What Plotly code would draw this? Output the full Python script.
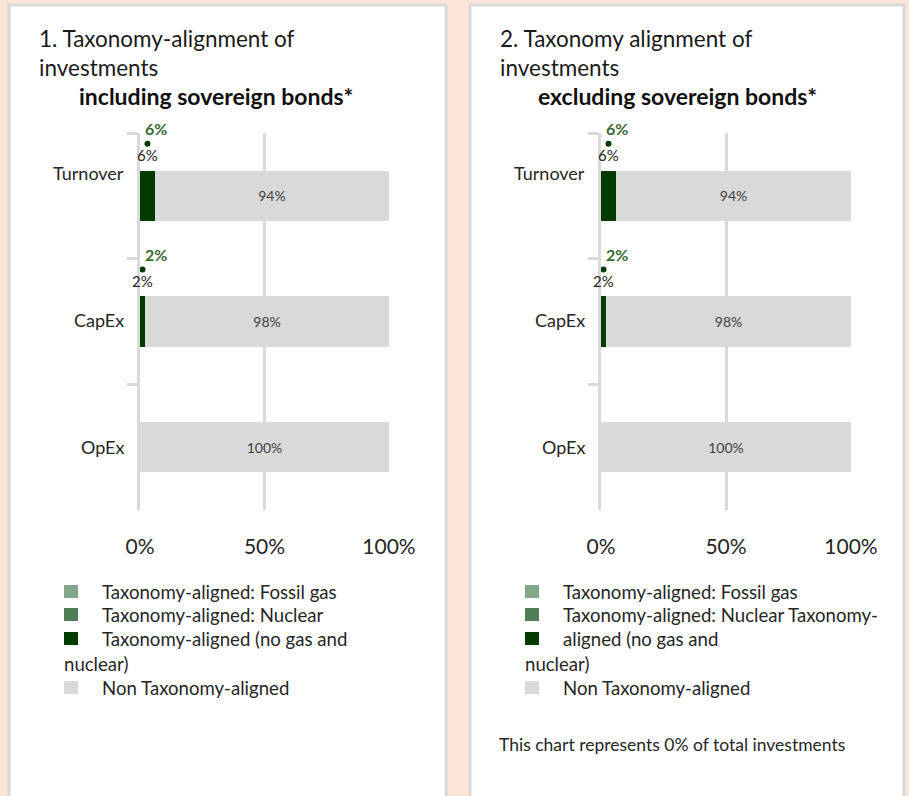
import plotly.graph_objects as go

W, H = 909, 796

# ---------------- data ----------------
categories = ["Turnover", "CapEx", "OpEx"]
series_names = [
    "Taxonomy-aligned: Fossil gas",
    "Taxonomy-aligned: Nuclear",
    "Taxonomy-aligned (no gas and nuclear)",
    "Non Taxonomy-aligned",
]
series_colors = ["#84a688", "#4f7d55", "#003b00", "#d9d9d9"]

incl_fossil_gas = [0.0, 0.0, 0.0]
incl_nuclear = [0.0, 0.0, 0.0]
incl_aligned = [0.06, 0.02, 0.0]
incl_non_aligned = [0.94, 0.98, 1.0]

excl_fossil_gas = [0.0, 0.0, 0.0]
excl_nuclear = [0.0, 0.0, 0.0]
excl_aligned = [0.06, 0.02, 0.0]
excl_non_aligned = [0.94, 0.98, 1.0]

x_tick_values = [0, 0.5, 1.0]
x_tick_labels = ["0%", "50%", "100%"]

panel1_title_lines = ["1. Taxonomy-alignment of", "investments"]
panel1_subtitle = "including sovereign bonds*"
panel2_title_lines = ["2. Taxonomy alignment of", "investments"]
panel2_subtitle = "excluding sovereign bonds*"

# (series index of the square or None, text)
panel1_legend_lines = [
    (0, "Taxonomy-aligned: Fossil gas"),
    (1, "Taxonomy-aligned: Nuclear"),
    (2, "Taxonomy-aligned (no gas and"),
    (None, "nuclear)"),
    (3, "Non Taxonomy-aligned"),
]
panel2_legend_lines = [
    (0, "Taxonomy-aligned: Fossil gas"),
    (1, "Taxonomy-aligned: Nuclear Taxonomy-"),
    (2, "aligned (no gas and"),
    (None, "nuclear)"),
    (3, "Non Taxonomy-aligned"),
]
panel2_footnote = "This chart represents 0% of total investments"

# ---------------- helpers ----------------
FONT = "Lato"
TEXT = "#262626"
GRID = "#d9d9d9"


def px(x):
    return x / W


def py(y):
    return 1 - y / H


fig = go.Figure()
annotations = []
shapes = []

# panel backgrounds
for x0, x1 in [(9, 446), (470, 904)]:
    shapes.append(dict(type="rect", xref="paper", yref="paper",
                       x0=px(x0), x1=px(x1), y0=py(820), y1=py(5),
                       fillcolor="white", line=dict(color="#d9d9d9", width=3),
                       layer="below"))

panels = [
    dict(dx=0, series=[incl_fossil_gas, incl_nuclear, incl_aligned, incl_non_aligned],
         title=panel1_title_lines, subtitle=panel1_subtitle,
         legend=panel1_legend_lines, footnote=None, xa="x", ya="y"),
    dict(dx=461, series=[excl_fossil_gas, excl_nuclear, excl_aligned, excl_non_aligned],
         title=panel2_title_lines, subtitle=panel2_subtitle,
         legend=panel2_legend_lines, footnote=panel2_footnote, xa="x2", ya="y2"),
]

for p in panels:
    dx = p["dx"]
    xa, ya = p["xa"], p["ya"]
    for i, (name, vals) in enumerate(zip(series_names, p["series"])):
        is_non = i == 3
        fig.add_trace(go.Bar(
            y=categories, x=vals, orientation="h", name=name,
            marker=dict(color=series_colors[i], line=dict(width=0)),
            width=0.4, xaxis=xa, yaxis=ya, showlegend=False,
            text=[f"{v:.0%}" for v in vals] if is_non else None,
            textposition="inside" if is_non else "none",
            insidetextanchor="middle",
            textfont=dict(family=FONT, size=14, color="#404040"),
            hoverinfo="skip",
        ))

    aligned = p["series"][2]
    for ci, (cat, v) in enumerate(zip(categories, aligned)):
        if v <= 0:
            continue
        # small marker dot above the aligned bar
        shapes.append(dict(type="circle", xref=xa, yref=ya,
                           xsizemode="pixel", ysizemode="pixel",
                           xanchor=v / 2, yanchor=ci,
                           x0=-3, x1=3, y0=49, y1=55,
                           fillcolor=series_colors[2], line=dict(width=0)))
        annotations.append(dict(x=v / 2, y=cat, xref=xa, yref=ya, text=f"{v:.0%}",
                                showarrow=False, yshift=41,
                                font=dict(family=FONT, size=15, color=TEXT)))
        annotations.append(dict(x=0, y=cat, xref=xa, yref=ya, text=f"<b>{v:.0%}</b>",
                                showarrow=False, yshift=67, xanchor="left", xshift=3,
                                font=dict(family=FONT, size=16, color="#3b6b34")))

    # category labels
    for cat, ys in zip(categories, [23, 2, 0]):
        annotations.append(dict(x=0, y=cat, xref=xa, yref=ya, text=cat, showarrow=False,
                                xanchor="right", xshift=-14, yshift=ys,
                                font=dict(family=FONT, size=18, color=TEXT)))

    # titles (one multi-line text)
    annotations.append(dict(x=px(37 + dx), y=py(53), xref="paper", yref="paper",
                            text="<br>".join(p["title"]), showarrow=False,
                            xanchor="left", yanchor="middle", align="left",
                            font=dict(family=FONT, size=22.5, color="#1a1a1a")))
    annotations.append(dict(x=px(216 + dx), y=py(96), xref="paper", yref="paper",
                            text=f"<b>{p['subtitle']}</b>", showarrow=False,
                            xanchor="center", yanchor="middle",
                            font=dict(family=FONT, size=23, color="#111111")))

    # legend
    ly = [592, 615, 639, 664, 688]
    for (si, txt), yy in zip(p["legend"], ly):
        if si is None:
            annotations.append(dict(x=px(62 + dx), y=py(yy), xref="paper", yref="paper",
                                    text=txt, showarrow=False, xanchor="left", yanchor="middle",
                                    font=dict(family=FONT, size=18.6, color=TEXT)))
        else:
            shapes.append(dict(type="rect", xref="paper", yref="paper",
                               x0=px(64 + dx), x1=px(78 + dx),
                               y0=py(yy + 6), y1=py(yy - 7),
                               fillcolor=series_colors[si], line=dict(width=0)))
            annotations.append(dict(x=px(100 + dx), y=py(yy), xref="paper", yref="paper",
                                    text=txt, showarrow=False, xanchor="left", yanchor="middle",
                                    font=dict(family=FONT, size=18.6, color=TEXT)))
    if p["footnote"]:
        annotations.append(dict(x=px(36 + dx), y=py(744), xref="paper", yref="paper",
                                text=p["footnote"], showarrow=False, xanchor="left",
                                yanchor="middle",
                                font=dict(family=FONT, size=17.5, color=TEXT)))

xcommon = dict(range=[0, 1], tickvals=x_tick_values, ticktext=x_tick_labels,
               showgrid=True, gridcolor=GRID, gridwidth=3, zeroline=False,
               showline=False, ticks="", ticklabelstandoff=22, automargin=False,
               tickfont=dict(family=FONT, size=21, color=TEXT), fixedrange=True)
ycommon = dict(type="category", categoryorder="array", categoryarray=categories,
               range=[2.5, -0.5], showgrid=False, zeroline=False,
               showline=True, linecolor=GRID, linewidth=3, automargin=False,
               ticks="outside", tickson="boundaries", ticklen=10, tickcolor=GRID,
               tickwidth=3, showticklabels=False, fixedrange=True)

ydom = [py(510), py(133)]
fig.update_layout(
    width=W, height=H,
    margin=dict(l=0, r=0, t=0, b=0, autoexpand=False),
    paper_bgcolor="#fbe5d6", plot_bgcolor="rgba(0,0,0,0)",
    barmode="stack", bargap=0.6,
    font=dict(family=FONT, color=TEXT),
    xaxis=dict(domain=[px(140), px(389)], anchor="y", **xcommon),
    yaxis=dict(domain=ydom, anchor="x", **ycommon),
    xaxis2=dict(domain=[px(601), px(851)], anchor="y2", **xcommon),
    yaxis2=dict(domain=ydom, anchor="x2", **ycommon),
    annotations=annotations, shapes=shapes,
    showlegend=False,
)

fig.write_html("out.html")
